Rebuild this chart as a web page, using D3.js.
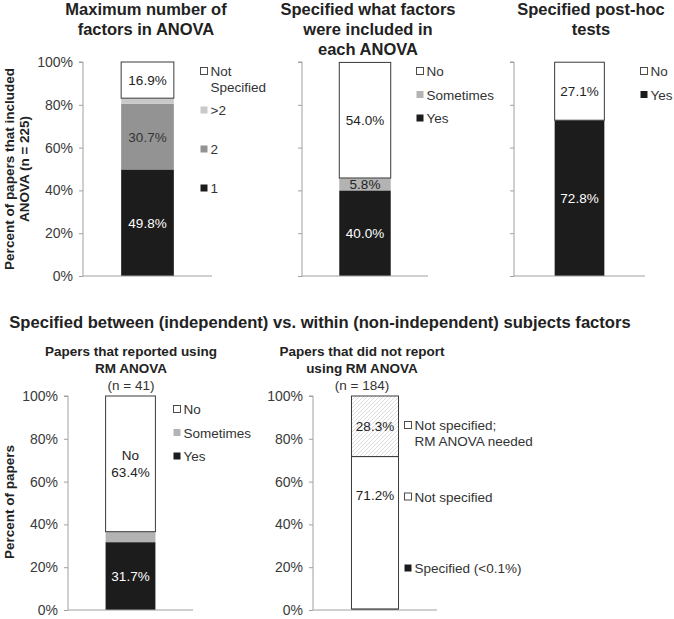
<!DOCTYPE html>
<html>
<head>
<meta charset="utf-8">
<script src="https://cdn.jsdelivr.net/npm/d3@7"></script>
<style>
  body { margin: 0; background: #fff; }
  text { font-family: "Liberation Sans", Arial, sans-serif; }
</style>
</head>
<body>
<svg id="chart" width="674" height="619"></svg>
<script>
// ---- data ----
const yTicks = [0, 20, 40, 60, 80, 100];

const factorCats = ["1", "2", ">2", "Not Specified"];
const factorVals = [49.8, 30.7, 2.6, 16.9];

const whatCats = ["Yes", "Sometimes", "No"];
const whatVals = [40.0, 5.8, 54.0];

const postCats = ["Yes", "No"];
const postVals = [72.8, 27.1];

const rmCats = ["Yes", "Sometimes", "No"];
const rmVals = [31.7, 4.9, 63.4];

const noRmCats = ["Specified (<0.1%)", "Not specified", "Not specified; RM ANOVA needed"];
const noRmVals = [0.5, 71.2, 28.3];

// ---- styles ----
const BLACK = "#1c1c1c", DARKGRAY = "#939393", LIGHTGRAY = "#c9c9c9", MIDGRAY = "#b3b3b3", WHITE = "#ffffff";
const axisColor = "#a0a0a0";
const fontSize = 13.5;

const svg = d3.select("#chart");

// hatch pattern for "RM ANOVA needed"
const defs = svg.append("defs");
const pat = defs.append("pattern")
    .attr("id", "hatch")
    .attr("patternUnits", "userSpaceOnUse")
    .attr("width", 4)
    .attr("height", 4);
pat.append("rect").attr("width", 4).attr("height", 4).attr("fill", "#fff");
pat.append("path")
    .attr("d", "M-1,1 l2,-2 M0,4 l4,-4 M3,5 l2,-2")
    .attr("stroke", "#cfcfcf")
    .attr("stroke-width", 0.7);

const panels = [
  {
    cats: factorCats, vals: factorVals,
    fills: [BLACK, DARKGRAY, LIGHTGRAY, WHITE],
    outlined: [false, false, false, true],
    showLabel: [true, true, false, true],
    labelColor: ["#fff", "#333", "#333", "#222"],
    legendLines: {"Not Specified": ["Not", "Specified"]},
    x0: 83, x1: 212, top: 62, bottom: 276, padding: 0.42,
    tickLabels: true,
    title: ["Maximum number of", "factors in ANOVA"], titleX: 146, titleY: 15,
    legendX: 200, legendY: 71, legendStep: 39
  },
  {
    cats: whatCats, vals: whatVals,
    fills: [BLACK, MIDGRAY, WHITE],
    outlined: [false, false, true],
    showLabel: [true, true, true],
    labelColor: ["#fff", "#222", "#222"],
    legendLines: {},
    x0: 302, x1: 428, top: 62, bottom: 276, padding: 0.42,
    tickLabels: false,
    title: ["Specified what factors", "were included in", "each ANOVA"], titleX: 368, titleY: 15,
    legendX: 416, legendY: 71, legendStep: 23.5
  },
  {
    cats: postCats, vals: postVals,
    fills: [BLACK, WHITE],
    outlined: [false, true],
    showLabel: [true, true],
    labelColor: ["#fff", "#222"],
    legendLines: {},
    x0: 514, x1: 645, top: 62, bottom: 276, padding: 0.45,
    tickLabels: false,
    title: ["Specified post-hoc", "tests"], titleX: 591, titleY: 15,
    legendX: 640, legendY: 71, legendStep: 23.5
  },
  {
    cats: rmCats, vals: rmVals,
    fills: [BLACK, MIDGRAY, WHITE],
    outlined: [false, false, true],
    showLabel: [true, false, true],
    labelColor: ["#fff", "#222", "#222"],
    labelPrefix: [null, null, "No"],
    legendLines: {},
    x0: 68, x1: 193, top: 396, bottom: 610, padding: 0.43,
    tickLabels: true,
    title: ["Papers that reported using", "RM ANOVA"], sub: "(n = 41)", titleX: 131, titleY: 356,
    legendX: 173, legendY: 409, legendStep: 23.5
  },
  {
    cats: noRmCats, vals: noRmVals,
    fills: [BLACK, WHITE, "url(#hatch)"],
    outlined: [false, true, true],
    showLabel: [false, true, true],
    labelColor: ["#fff", "#222", "#222"],
    labelPos: [0.5, 0.25, 0.5],
    legendFills: [BLACK, WHITE, WHITE],
    legendLines: {"Not specified; RM ANOVA needed": ["Not specified;", "RM ANOVA needed"]},
    x0: 313, x1: 437, top: 396, bottom: 610, padding: 0.45,
    tickLabels: true,
    title: ["Papers that did not report", "using RM ANOVA"], sub: "(n = 184)", titleX: 362, titleY: 356,
    legendX: 404, legendY: 425, legendStep: 71.5
  }
];

function drawPanel(p) {
  const g = svg.append("g");

  const y = d3.scaleLinear().domain([0, 100]).range([p.bottom, p.top]);
  const x = d3.scaleBand().domain(["bar"]).range([p.x0, p.x1]).padding(p.padding);

  // y axis
  const yAxis = d3.axisLeft(y)
      .tickValues(yTicks)
      .tickSize(4)
      .tickPadding(6)
      .tickFormat(p.tickLabels ? (d => d + "%") : "");
  const ya = g.append("g")
      .attr("transform", `translate(${p.x0},0)`)
      .call(yAxis);
  ya.select(".domain").attr("stroke", axisColor).attr("d", `M-4,${p.top}H0V${p.bottom}`);
  ya.selectAll(".tick line").attr("stroke", axisColor);
  ya.selectAll(".tick text")
      .attr("fill", "#3a3a3a")
      .style("font-size", "14px")
      .style("font-family", "'Liberation Sans', Arial, sans-serif");

  // stacked segments
  let acc = 0;
  const segs = p.vals.map((v, i) => {
    const s = {i, y0: acc, y1: acc + v, v};
    acc += v;
    return s;
  });

  g.selectAll("rect.seg")
    .data(segs)
    .enter()
    .append("rect")
    .attr("class", "seg")
    .attr("x", x("bar"))
    .attr("width", x.bandwidth())
    .attr("y", d => y(d.y1))
    .attr("height", d => y(d.y0) - y(d.y1))
    .attr("fill", d => p.fills[d.i])
    .attr("stroke", d => p.outlined[d.i] ? "#3a3a3a" : "none")
    .attr("stroke-width", 1);

  // baseline
  g.append("line")
    .attr("x1", p.x0).attr("x2", p.x1)
    .attr("y1", p.bottom).attr("y2", p.bottom)
    .attr("stroke", axisColor);

  // segment labels
  const fmt = d3.format(".1f");
  segs.filter(d => p.showLabel[d.i]).forEach(d => {
    const frac = p.labelPos ? p.labelPos[d.i] : 0.5;
    const cy = y(d.y1) + (y(d.y0) - y(d.y1)) * frac;
    const lines = [];
    if (p.labelPrefix && p.labelPrefix[d.i]) lines.push(p.labelPrefix[d.i]);
    lines.push(fmt(d.v) + "%");
    const t = g.append("text")
      .attr("x", x("bar") + x.bandwidth() / 2)
      .attr("text-anchor", "middle")
      .attr("fill", p.labelColor[d.i])
      .style("font-size", fontSize + "px");
    lines.forEach((l, k) => {
      t.append("tspan")
        .attr("x", x("bar") + x.bandwidth() / 2)
        .attr("y", cy + 5 + (k - (lines.length - 1) / 2) * 17)
        .text(l);
    });
  });

  // title
  p.title.forEach((line, k) => {
    g.append("text")
      .attr("x", p.titleX)
      .attr("y", p.titleY + k * 20 * (p.sub ? 0.85 : 1))
      .attr("text-anchor", "middle")
      .attr("fill", "#222")
      .style("font-size", (p.sub ? 13.5 : 16.5) + "px")
      .style("font-weight", "bold")
      .text(line);
  });
  if (p.sub) {
    g.append("text")
      .attr("x", p.titleX)
      .attr("y", p.titleY + p.title.length * 17)
      .attr("text-anchor", "middle")
      .attr("fill", "#333")
      .style("font-size", fontSize + "px")
      .text(p.sub);
  }

  // legend (reverse order, top item = last series)
  const legendItems = p.cats.map((c, i) => ({c, i})).reverse();
  const legend = g.selectAll(".legend")
    .data(legendItems)
    .enter()
    .append("g")
    .attr("transform", (d, k) => `translate(${p.legendX},${p.legendY + k * p.legendStep})`);

  legend.append("rect")
    .attr("x", 0.5)
    .attr("y", -3.5)
    .attr("width", 7)
    .attr("height", 7)
    .attr("fill", d => (p.legendFills || p.fills)[d.i])
    .attr("stroke", d => p.outlined[d.i] ? "#3a3a3a" : "none")
    .attr("stroke-width", 0.9);

  legend.each(function(d) {
    const lines = p.legendLines[d.c] || [d.c];
    const t = d3.select(this).append("text")
      .attr("fill", "#333")
      .style("font-size", fontSize + "px");
    lines.forEach((l, k) => {
      t.append("tspan").attr("x", 10.5).attr("y", 5 + k * 15.5).text(l);
    });
  });
}

panels.forEach(drawPanel);

// y-axis titles
svg.append("text")
  .attr("transform", "translate(14,169) rotate(-90)")
  .attr("text-anchor", "middle")
  .attr("fill", "#222")
  .style("font-size", "13.5px")
  .style("font-weight", "bold")
  .selectAll("tspan")
  .data(["Percent of papers that included", "ANOVA (n = 225)"])
  .enter()
  .append("tspan")
  .attr("x", 0)
  .attr("dy", (d, i) => i === 0 ? 0 : 15)
  .text(d => d);

svg.append("text")
  .attr("transform", "translate(14,502) rotate(-90)")
  .attr("text-anchor", "middle")
  .attr("fill", "#222")
  .style("font-size", "13.5px")
  .style("font-weight", "bold")
  .text("Percent of papers");

// section heading
svg.append("text")
  .attr("x", 320)
  .attr("y", 328)
  .attr("text-anchor", "middle")
  .attr("fill", "#222")
  .style("font-size", "16.6px")
  .style("font-weight", "bold")
  .text("Specified between (independent) vs. within (non-independent) subjects factors");
</script>
</body>
</html>
